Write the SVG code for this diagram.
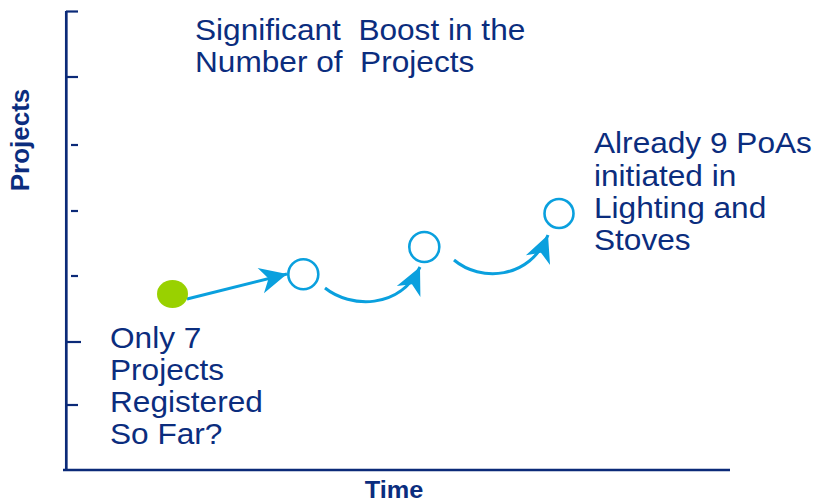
<svg xmlns="http://www.w3.org/2000/svg" width="819" height="502" viewBox="0 0 819 502">
<style>
.t{font-family:"Liberation Sans",Arial,sans-serif;font-size:29px;fill:#0b2d7e;white-space:pre}
.b{font-family:"Liberation Sans",Arial,sans-serif;font-weight:bold;fill:#0b2d7e}
.ax{stroke:#0b2a78;stroke-width:2.7;fill:none}
.tk{stroke:#0b2a78;stroke-width:2.2;fill:none}
.con{stroke:#0aa0de;stroke-width:3;fill:none}
.ring{stroke:#0aa0de;stroke-width:2.6;fill:#fff}
</style>
<defs>
<marker id="ah" markerUnits="userSpaceOnUse" viewBox="-30 -15 32 30" markerWidth="32" markerHeight="30" refX="0" refY="0" orient="auto">
<path d="M0,0 L-27,-13 L-19,0 L-27,13 Z" fill="#0aa0de"/>
</marker>
</defs>
<g id="axes">
<line class="ax" x1="66.3" y1="11" x2="66.3" y2="471"/>
<line class="ax" x1="63" y1="470" x2="730" y2="470"/>
<line class="tk" x1="66" y1="11.5" x2="78" y2="11.5"/>
<line class="tk" x1="66" y1="77" x2="78" y2="77"/>
<line class="tk" x1="71" y1="145" x2="78" y2="145"/>
<line class="tk" x1="71" y1="211" x2="78" y2="211"/>
<line class="tk" x1="71" y1="276" x2="78" y2="276"/>
<line class="tk" x1="66" y1="342" x2="81" y2="342"/>
<line class="tk" x1="66" y1="405" x2="78" y2="405"/>
<text class="b" font-size="26" text-anchor="middle" transform="translate(29,140) rotate(-90)">Projects</text>
<text class="b" font-size="23" text-anchor="middle" transform="translate(394,498) scale(1.1,1)">Time</text>
</g>
<g id="connectors">
<line class="con" x1="187" y1="299" x2="287" y2="274" marker-end="url(#ah)"/>
<path class="con" d="M325,288 C350,308 400,310 420,267" marker-end="url(#ah)"/>
<path class="con" d="M454,260 C480,282 530,280 548,235" marker-end="url(#ah)"/>
</g>
<g id="start">
<ellipse cx="172.5" cy="294" rx="15.5" ry="14" fill="#99d100"/>
</g>
<g id="step1"><circle class="ring" cx="303.3" cy="274.2" r="15"/></g>
<g id="step2"><circle class="ring" cx="424.3" cy="247" r="15"/></g>
<g id="step3"><circle class="ring" cx="559" cy="213.5" r="14.5"/></g>
<g id="label-boost" transform="translate(195,0) scale(1.09,1)">
<text class="t" xml:space="preserve" x="0" y="40">Significant  Boost in the</text>
<text class="t" xml:space="preserve" x="0" y="72">Number of  Projects</text>
</g>
<g id="label-poas" transform="translate(594,0) scale(1.09,1)">
<text class="t" x="0" y="153">Already 9 PoAs</text>
<text class="t" x="0" y="186">initiated in</text>
<text class="t" x="0" y="218">Lighting and</text>
<text class="t" x="0" y="250">Stoves</text>
</g>
<g id="label-only" transform="translate(110,0) scale(1.09,1)">
<text class="t" x="0" y="348">Only 7</text>
<text class="t" x="0" y="380">Projects</text>
<text class="t" x="0" y="412">Registered</text>
<text class="t" x="0" y="444">So Far?</text>
</g>
</svg>
